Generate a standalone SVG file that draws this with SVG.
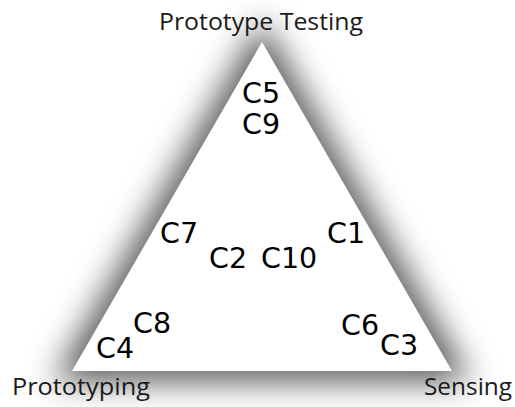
<svg xmlns="http://www.w3.org/2000/svg" width="515" height="407" viewBox="0 0 515 407">
<defs>
<filter id="glow" x="-40%" y="-40%" width="180%" height="180%">
<feGaussianBlur stdDeviation="16"/>
</filter>
<style>
.c{font-family:"DejaVu Sans",Verdana,sans-serif;font-size:28.5px;fill:#000}
.t{font-family:"Open Sans","Liberation Sans",sans-serif;font-size:23px;fill:#1a1a1a}
</style>
</defs>
<rect width="515" height="407" fill="#fff"/>
<g id="triangle">
<polygon points="262,42 72,371 452,371" fill="#000" fill-opacity="0.52" stroke="#000" stroke-opacity="0.52" stroke-width="24" stroke-linejoin="miter" filter="url(#glow)"/>
<polygon points="262,42 72,371 452,371" fill="#fff"/>
</g>
<g id="connectors"></g>
<g id="vertex-labels">
<text class="t" x="159" y="29.5" textLength="204" lengthAdjust="spacingAndGlyphs">Prototype Testing</text>
<text class="t" x="12" y="395" textLength="138" lengthAdjust="spacingAndGlyphs">Prototyping</text>
<text class="t" x="424" y="395" textLength="88" lengthAdjust="spacingAndGlyphs">Sensing</text>
</g>
<g id="items">
<text class="c" x="242" y="103">C5</text>
<text class="c" x="242" y="134">C9</text>
<text class="c" x="160" y="243">C7</text>
<text class="c" x="327" y="243">C1</text>
<text class="c" x="209" y="268">C2</text>
<text class="c" x="261" y="268">C10</text>
<text class="c" x="133" y="333">C8</text>
<text class="c" x="96" y="358">C4</text>
<text class="c" x="341" y="335">C6</text>
<text class="c" x="380" y="355">C3</text>
</g>
</svg>
